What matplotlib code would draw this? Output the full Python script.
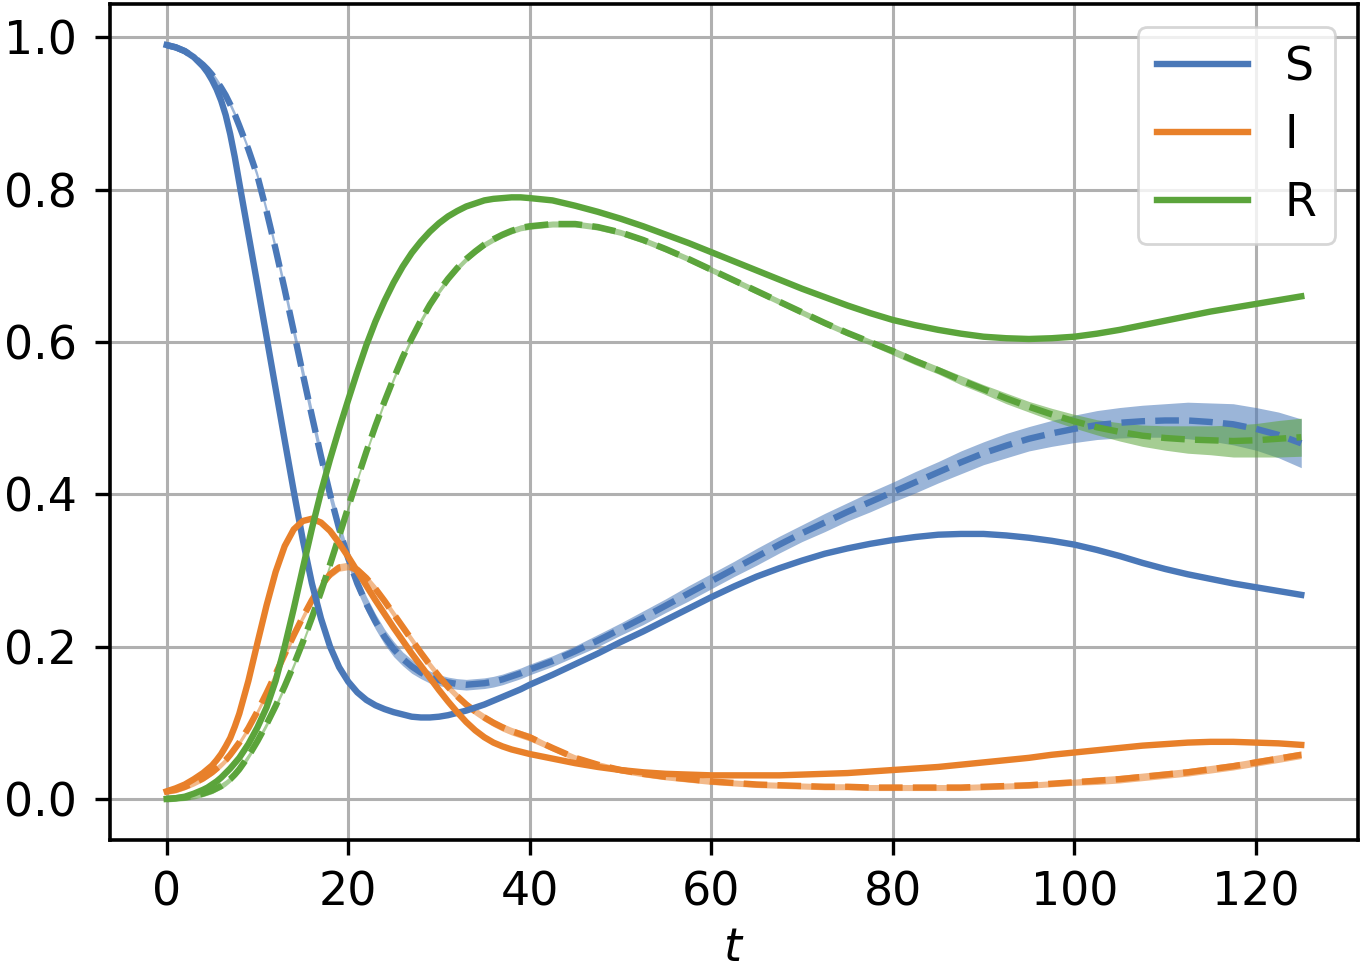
import numpy as np
import matplotlib
matplotlib.use("Agg")
import matplotlib.pyplot as plt

# time grid (shared by all series)
t = [0, 1, 2, 3, 4, 4.5, 5, 5.5, 6, 6.5, 7, 7.5, 8, 9, 10, 11, 12, 13, 14,
     15, 16, 17, 18, 19, 20, 21, 22, 23, 24, 25, 26, 27, 28, 29, 30, 31, 32,
     33, 34, 35, 36, 37, 38, 39, 40,
     42.5, 45, 47.5, 50, 52.5, 55, 57.5, 60, 62.5, 65, 67.5, 70, 72.5, 75,
     77.5, 80, 82.5, 85, 87.5, 90, 92.5, 95, 97.5, 100, 102.5, 105, 107.5,
     110, 112.5, 115, 117.5, 120, 122.5, 125]

# true trajectories (solid)
S_true = [0.990, 0.987, 0.982, 0.974, 0.962, 0.954, 0.944, 0.932, 0.917, 0.898,
          0.873, 0.843, 0.809, 0.742,
          0.675, 0.607, 0.539, 0.471, 0.404, 0.340, 0.283, 0.237, 0.200, 0.173,
          0.154, 0.140, 0.130, 0.123, 0.118, 0.114, 0.111, 0.108, 0.107, 0.107,
          0.108, 0.110, 0.113, 0.116, 0.120, 0.124, 0.129, 0.134, 0.139, 0.144,
          0.150,
          0.163, 0.177, 0.191, 0.206, 0.220, 0.235, 0.250, 0.265, 0.279, 0.292,
          0.303, 0.313, 0.322, 0.329, 0.335, 0.340, 0.344, 0.347, 0.348, 0.348,
          0.346, 0.343, 0.339, 0.334, 0.327, 0.319, 0.310, 0.302, 0.295, 0.289,
          0.283, 0.278, 0.273, 0.268]
I_true = [0.010, 0.014, 0.019, 0.026, 0.034, 0.039, 0.044, 0.051, 0.059, 0.069,
          0.080, 0.095, 0.112, 0.155,
          0.205, 0.254, 0.298, 0.332, 0.354, 0.365, 0.368, 0.363, 0.352, 0.336,
          0.318, 0.299, 0.280, 0.261, 0.243, 0.225, 0.208, 0.191, 0.175, 0.159,
          0.143, 0.128, 0.114, 0.101, 0.090, 0.081, 0.074, 0.069, 0.065, 0.062,
          0.059,
          0.053, 0.047, 0.042, 0.038, 0.035, 0.033, 0.032, 0.031, 0.031, 0.031,
          0.031, 0.032, 0.033, 0.034, 0.036, 0.038, 0.040, 0.042, 0.045, 0.048,
          0.051, 0.054, 0.058, 0.061, 0.064, 0.067, 0.070, 0.072, 0.074, 0.075,
          0.075, 0.074, 0.073, 0.071]
R_true = [0.000, 0.001, 0.003, 0.007, 0.012, 0.015, 0.019, 0.023, 0.028, 0.034,
          0.040, 0.047, 0.054, 0.072,
          0.094, 0.120, 0.155, 0.200, 0.250, 0.303, 0.355, 0.403, 0.446, 0.486,
          0.524, 0.561, 0.596, 0.627, 0.654, 0.678, 0.699, 0.717, 0.732, 0.745,
          0.756, 0.765, 0.772, 0.778, 0.782, 0.786, 0.788, 0.789, 0.790, 0.790,
          0.789,
          0.786, 0.779, 0.771, 0.762, 0.752, 0.741, 0.730, 0.718, 0.706, 0.694,
          0.682, 0.670, 0.659, 0.648, 0.638, 0.629, 0.622, 0.616, 0.611, 0.607,
          0.605, 0.604, 0.605, 0.607, 0.611, 0.616, 0.622, 0.628, 0.634, 0.640,
          0.645, 0.650, 0.655, 0.660]

# predicted mean (dashed)
S_pred = [0.990, 0.987, 0.982, 0.974, 0.964, 0.958, 0.951, 0.943, 0.934, 0.924,
          0.912, 0.899, 0.884, 0.853,
          0.818, 0.772, 0.722, 0.669, 0.614, 0.558, 0.503, 0.450, 0.400, 0.355,
          0.316, 0.283, 0.256, 0.233, 0.213, 0.197, 0.184, 0.174, 0.166, 0.160,
          0.156, 0.153, 0.151, 0.150, 0.151, 0.152, 0.154, 0.157, 0.161, 0.165,
          0.170,
          0.181, 0.194, 0.208, 0.223, 0.238, 0.254, 0.270, 0.286, 0.302, 0.318,
          0.334, 0.349, 0.363, 0.377, 0.390, 0.403, 0.416, 0.429, 0.442, 0.454,
          0.464, 0.473, 0.480, 0.486, 0.491, 0.494, 0.496, 0.497, 0.497, 0.495,
          0.492, 0.486, 0.478, 0.467]
I_pred = [0.010, 0.012, 0.016, 0.021, 0.027, 0.031, 0.035, 0.040, 0.045, 0.051,
          0.058, 0.066, 0.074, 0.093,
          0.115, 0.139, 0.164, 0.190, 0.215, 0.239, 0.261, 0.280, 0.295, 0.304,
          0.306, 0.301, 0.290, 0.276, 0.260, 0.243, 0.226, 0.209, 0.192, 0.176,
          0.161, 0.147, 0.135, 0.124, 0.115, 0.107, 0.100, 0.094, 0.089, 0.085,
          0.081,
          0.067, 0.054, 0.045, 0.038, 0.033, 0.029, 0.026, 0.023, 0.021, 0.019,
          0.018, 0.017, 0.016, 0.016, 0.015, 0.015, 0.015, 0.015, 0.015, 0.016,
          0.017, 0.018, 0.020, 0.022, 0.024, 0.026, 0.029, 0.032, 0.035, 0.039,
          0.043, 0.048, 0.053, 0.058]
R_pred = [0.000, 0.001, 0.002, 0.004, 0.007, 0.009, 0.011, 0.014, 0.017, 0.021,
          0.026, 0.032, 0.039, 0.056,
          0.076, 0.098, 0.122, 0.148, 0.176, 0.206, 0.238, 0.272, 0.308, 0.345,
          0.383, 0.420, 0.456, 0.490, 0.522, 0.552, 0.580, 0.605, 0.628, 0.649,
          0.667, 0.683, 0.697, 0.709, 0.719, 0.728, 0.735, 0.741, 0.746, 0.750,
          0.752,
          0.755, 0.755, 0.751, 0.744, 0.734, 0.722, 0.709, 0.695, 0.681, 0.667,
          0.653, 0.639, 0.625, 0.612, 0.600, 0.588, 0.575, 0.563, 0.550, 0.538,
          0.526, 0.515, 0.505, 0.496, 0.488, 0.482, 0.477, 0.474, 0.472, 0.471,
          0.470, 0.471, 0.473, 0.475]

# half-width of the uncertainty band around each prediction
S_band = ([0.004] * 14 + [0.005, 0.006, 0.007, 0.008, 0.009] + [0.010] * 11
          + [0.009, 0.009, 0.008, 0.008] + [0.007] * 11
          + [0.007, 0.007, 0.008, 0.008, 0.009, 0.009, 0.010, 0.010, 0.010,
             0.011, 0.011, 0.011, 0.012, 0.012, 0.013, 0.013, 0.014, 0.014,
             0.015, 0.015, 0.016, 0.016, 0.017, 0.018, 0.019, 0.020, 0.021,
             0.022, 0.024, 0.025, 0.027, 0.028, 0.030, 0.032])
I_band = [0.004] * 15 + [0.005] * 30 + [0.004] * 24 + [0.005] * 10
R_band = ([0.004] * 60
          + [0.005, 0.005, 0.005, 0.006, 0.006, 0.007, 0.007, 0.008, 0.009,
             0.010, 0.012, 0.014, 0.016, 0.018, 0.019, 0.021, 0.022, 0.024,
             0.025])

labels = ["S", "I", "R"]
colors = ["#4a78b8", "#e8802a", "#5ba43b"]

plt.rcParams["font.size"] = 16.5
plt.rcParams["mathtext.fontset"] = "dejavusans"

fig = plt.figure(figsize=(6.855, 4.86), dpi=200)
ax = fig.add_axes([0.0802, 0.1358, 0.9103, 0.8601])

tt = np.array(t)
preds = [S_pred, I_pred, R_pred]
bands = [S_band, I_band, R_band]
trues = [S_true, I_true, R_true]

# uncertainty bands
for p, b, c in zip(preds, bands, colors):
    p = np.array(p)
    b = np.array(b)
    ax.fill_between(tt, p - b, p + b, color=c, alpha=0.55, linewidth=0, zorder=2)

# predicted means
for p, c in zip(preds, colors):
    ax.plot(tt, p, color=c, linestyle="--", linewidth=2.3, zorder=3)

# true curves
for y, c, lab in zip(trues, colors, labels):
    ax.plot(tt, y, color=c, linewidth=2.3, label=lab, zorder=4)

ax.set_xticks([0, 20, 40, 60, 80, 100, 120])
ax.set_yticks([0.0, 0.2, 0.4, 0.6, 0.8, 1.0])
ax.grid(True, color="#b0b0b0", linewidth=1.1)
ax.set_axisbelow(True)
for s in ax.spines.values():
    s.set_linewidth(1.3)
ax.tick_params(axis="both", length=5.4, width=1.2)
ax.tick_params(axis="x", pad=5.5)
ax.tick_params(axis="y", pad=6.5)
ax.set_xlabel("$t$", labelpad=4)

ax.legend(loc="upper right", framealpha=0.8)

fig.savefig("out.png", dpi=200)
